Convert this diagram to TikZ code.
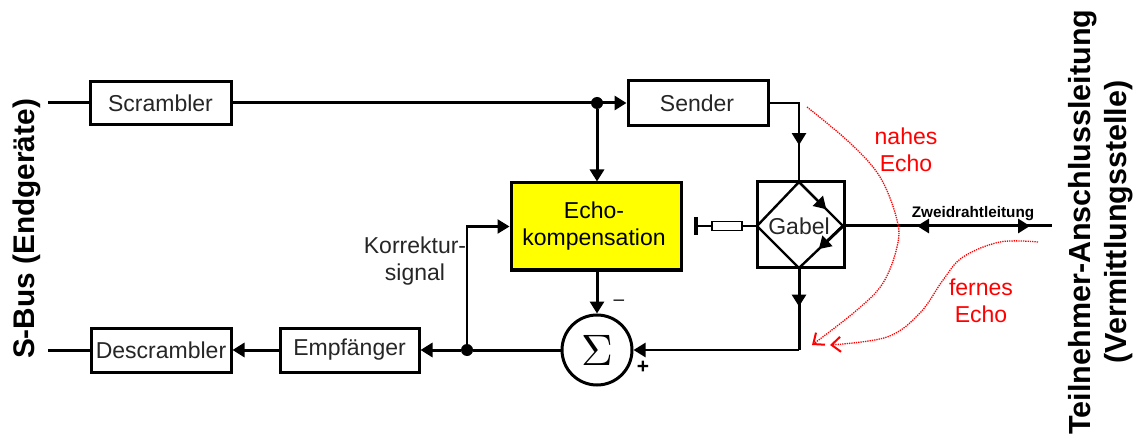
\documentclass[tikz,border=0pt]{standalone}
\usepackage{fontspec}
\setmainfont{Liberation Sans}
\usetikzlibrary{arrows.meta,decorations.markings,shapes.geometric,calc}
\definecolor{echoy}{RGB}{255,255,0}
\tikzset{
  x=1pt,y=-1pt,
  blockbox/.style={draw=black,line width=3pt,fill=white,minimum width=#1,minimum height=44pt,inner sep=0pt,font=\fontsize{23}{27}\selectfont,text=black!85},
  blockbox/.default=140pt,
  wire/.style={line width=3pt,black},
  thin wire/.style={line width=2.4pt,black},
  tip/.style={-{Triangle[length=12pt,width=14pt]}},
  midtip/.style={postaction={decorate},decoration={markings,mark=at position #1 with {\arrow{Triangle[length=12pt,width=14pt]}}}},
  redtext/.style={text=red,font=\fontsize{23}{27}\selectfont,align=center,inner sep=0pt},
  echoline/.style={red,line width=1.3pt,densely dotted,-{Straight Barb[length=9pt,width=15pt,line width=2pt]}},
  sidetext/.style={rotate=90,font=\bfseries\fontsize{30.5}{36}\selectfont,align=center,inner sep=0pt},
  txtlabel/.style={font=\fontsize{23}{27}\selectfont,align=center,inner sep=0pt,text=black!85},
  dotn/.style={circle,fill=black,minimum size=12pt,inner sep=0pt}
}
\begin{document}
\begin{tikzpicture}
\useasboundingbox (0,0) rectangle (1137,438);
% free ends
\coordinate (inS) at (48,103);
\coordinate (outS) at (48,350);
\coordinate (line) at (1052,226);
% blocks
\node[blockbox=141pt,minimum height=43pt] (scr) at (160.5,103) {Scrambler};
\node[blockbox=140pt,minimum height=45pt] (snd) at (698,103) {\hspace*{-2pt}Sender};
\node[blockbox=170pt,minimum height=87pt,fill=echoy,align=center,text=black] (echo) at (596,226.5) {\hspace*{-4pt}Echo-\\\hspace*{-4pt}kompensation};
\node[blockbox=140pt] (des) at (161,350) {Descrambler};
\node[blockbox=139pt] (emp) at (349.5,350) {Empfänger};
\node[draw,line width=3pt,circle,minimum size=70pt,inner sep=0pt,fill=white] (sum) at (597,350) {\scalebox{4.4}{$\Sigma$}};
\node[draw,line width=3pt,minimum width=87pt,minimum height=86pt,inner sep=0pt] (gab) at (800.5,225) {};
\coordinate (gt) at (799,182);
\coordinate (gr) at (843,226);
\coordinate (gb) at (799,268);
\coordinate (gl) at (757,226);
\node[txtlabel] (gabt) at (799,226) {Gabel};
\node[draw,line width=1.8pt,fill=white,minimum width=30pt,minimum height=9pt,inner sep=0pt] (res) at (727,226) {};
\coordinate (term) at (696,226);
\node[dotn] (d1) at (597,103) {};
\node[dotn] (d2) at (467,350) {};
% connectors
\draw[wire] (inS) -- (scr.west);
\draw[wire,tip] (scr.east) -- (snd.west);
\draw[wire,tip] (d1) -- (d1 |- echo.north);
\coordinate (c1) at (799,103);
\draw[thin wire,midtip=0.66] (snd.east) -- (c1) -- (gt);
\draw[thin wire] (gt) -- (gr) -- (gb) -- (gl) -- cycle;
\draw[thin wire,-{Triangle[length=12pt,width=14pt]}] (gt) -- ($(gt)!0.62!(gr)$);
\draw[wire,-{Triangle[length=12pt,width=14pt]}] (gr) -- ($(gr)!0.55!(gb)$);
\coordinate (c2) at (799,350);
\draw[wire,midtip=0.47] (gb) -- (c2);
\draw[thin wire,tip] (c2) -- (sum.east);
\draw[wire] (sum.west) -- (d2);
\draw[wire,tip] (d2) -- (emp.east);
\draw[wire,tip] (emp.west) -- (des.east);
\draw[wire] (des.west) -- (outS);
\draw[wire,tip] (sum |- echo.south) -- (sum.north);
\draw[thin wire,tip] (d2) |- (echo.west);
\draw[wire] (gr) -- (line);
\coordinate (a1) at (917,226);
\coordinate (a2) at (1030,226);
\draw[wire,tip] (960,226) -- (a1);
\draw[wire,tip] (1000,226) -- (a2);
\draw[thin wire] (gl) -- (res.east);
\draw[thin wire] (res.west) -- (term);
\draw[line width=4pt] (696,217) -- (696,235);
% echoes
\coordinate (hit) at (812,345);
\coordinate (hit2) at (830,345);
\draw[echoline] plot[smooth,tension=0.6] coordinates {(807,107) (850,143) (880,177) (897,220) (897,247) (883,283) (857,310) (hit)};
\draw[echoline] plot[smooth,tension=0.6] coordinates {(1038,242) (1000,242) (963,257) (943,280) (920,313) (887,337) (hit2)};
% text
\node[redtext] (t1) at (906,149.5) {nahes\\Echo};
\node[redtext] (t2) at (981,301) {fernes\\Echo};
\node[txtlabel,font=\bfseries\fontsize{15.3}{18}\selectfont,text=black] (zw) at (973,214) {Zweidrahtleitung};
\node[txtlabel] (kor) at (415,261) {Korrektur-\\signal};
\node[font=\bfseries\fontsize{21}{21}\selectfont,inner sep=0pt] (plus) at (643,367) {+};
\node[font=\fontsize{19}{19}\selectfont,inner sep=0pt] (minus) at (619,303) {\textendash};
\node[sidetext,font=\bfseries\fontsize{29.8}{36}\selectfont] (sb) at (27,229) {S-Bus (Endgeräte)};
\node[sidetext] (tn) at (1101,222) {Teilnehmer-Anschlussleitung\\(Vermittlungsstelle)};
\end{tikzpicture}
\end{document}
